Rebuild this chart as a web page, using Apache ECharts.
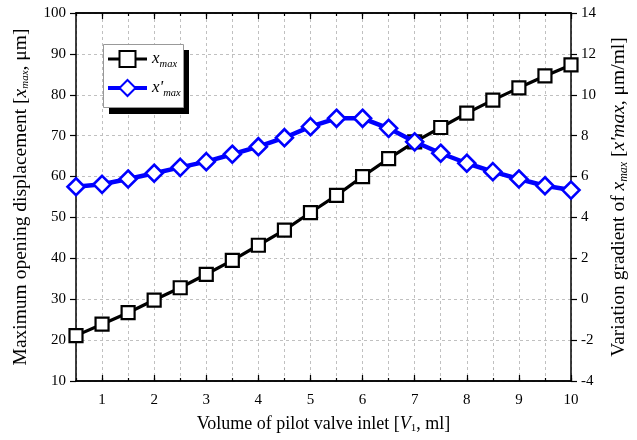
<!DOCTYPE html>
<html>
<head>
<meta charset="utf-8">
<style>
  html, body { margin: 0; padding: 0; background: #fff; }
  #chart { width: 637px; height: 440px; }
</style>
<script src="https://cdn.jsdelivr.net/npm/echarts@6/dist/echarts.min.js"></script>
</head>
<body>
<div id="chart"></div>
<script>
var volume = [0.5, 1, 1.5, 2, 2.5, 3, 3.5, 4, 4.5, 5, 5.5, 6, 6.5, 7, 7.5, 8, 8.5, 9, 9.5, 10];
var xMax = [21.1, 23.9, 26.7, 29.8, 32.8, 36.1, 39.5, 43.2, 46.9, 51.2, 55.4, 60.0, 64.4, 68.5, 72.0, 75.5, 78.7, 81.7, 84.6, 87.3];
var xMaxGrad = [5.5, 5.62, 5.88, 6.16, 6.45, 6.73, 7.09, 7.46, 7.9, 8.44, 8.85, 8.85, 8.36, 7.7, 7.14, 6.65, 6.24, 5.88, 5.55, 5.34];
var majorTicks = [1, 2, 3, 4, 5, 6, 7, 8, 9, 10];

var font = 'Liberation Serif, Times New Roman, serif';

function pairs(xs, ys) {
    return xs.map(function (x, i) { return [x, ys[i]]; });
}

function nameRich(size, subSize) {
    return {
        n: { fontFamily: font, fontSize: size, color: '#000' },
        i: { fontFamily: font, fontSize: size, fontStyle: 'italic', color: '#000' },
        s: { fontFamily: font, fontSize: subSize, fontStyle: 'italic', color: '#000', verticalAlign: 'bottom', padding: [subSize - 2, 0, 0, 0] }
    };
}

var chart = echarts.init(document.getElementById('chart'));

var baseX = {
    type: 'value',
    min: 0.5,
    max: 10,
    interval: 0.5,
    axisLine: { show: true, onZero: false, lineStyle: { color: '#000', width: 1.5 } },
    splitLine: { show: false }
};

function minorAxis(pos, withLabels, withSplit) {
    return Object.assign({}, baseX, {
        position: pos,
        axisTick: { show: true, inside: true, length: 3, lineStyle: { color: '#000', width: 1.2 } },
        axisLabel: {
            show: withLabels,
            margin: 12,
            color: '#000',
            fontFamily: font,
            fontSize: 15,
            formatter: function (v) { return v % 1 === 0 ? String(v) : ''; }
        },
        splitLine: { show: withSplit, lineStyle: { color: '#c0c0c0', type: [3, 3], width: 1 } }
    });
}

function majorAxis(pos) {
    return Object.assign({}, baseX, {
        position: pos,
        axisTick: { show: true, inside: true, length: 6, customValues: majorTicks, lineStyle: { color: '#000', width: 1.2 } },
        axisLabel: { show: false }
    });
}

var xAxes = [minorAxis('bottom', true, true), majorAxis('bottom'), minorAxis('top', false, false), majorAxis('top')];
xAxes[0].name = '{n|Volume of pilot valve inlet [}{i|V}{s|1}{n|, ml]}';
xAxes[0].nameLocation = 'middle';
xAxes[0].nameGap = 33;
xAxes[0].nameTextStyle = { rich: nameRich(18, 11) };
xAxes[0].nameTextStyle.rich.s.fontStyle = 'normal';

var option = {
    animation: false,
    backgroundColor: '#fff',
    grid: { left: 76, right: 66, top: 13, bottom: 59, outerBoundsMode: 'none', containLabel: false },
    graphic: [{
        type: 'rect',
        shape: { x: 109, y: 50, width: 80, height: 64 },
        style: { fill: '#000' },
        z: 10
    }, {
        type: 'rect',
        shape: { x: 103.5, y: 44.5, width: 80, height: 63 },
        style: { fill: '#fff', stroke: '#999', lineWidth: 1 },
        z: 11
    }],
    legend: {
        orient: 'vertical',
        left: 106,
        top: 50,
        itemWidth: 39,
        itemHeight: 20,
        itemGap: 9,
        padding: 0,
        z: 20,
        data: [
            { name: 'x_max', lineStyle: { width: 3 } },
            { name: "x'_max", lineStyle: { width: 4 } }
        ],
        formatter: function (name) {
            return name === 'x_max' ? '{i|x}{s|max}' : "{i|x'}{s|max}";
        },
        textStyle: {
            rich: {
                i: { fontFamily: font, fontSize: 17, fontStyle: 'italic', color: '#000' },
                s: { fontFamily: font, fontSize: 10.5, fontStyle: 'italic', color: '#000', verticalAlign: 'bottom', padding: [11, 0, 0, 0] }
            }
        }
    },
    xAxis: xAxes,
    yAxis: [{
        type: 'value',
        position: 'left',
        min: 10,
        max: 100,
        interval: 10,
        name: '{n|Maximum opening displacement [}{i|x}{s|max}{n|, μm]}',
        nameLocation: 'middle',
        nameGap: 45,
        nameTextStyle: { rich: nameRich(19.5, 11) },
        axisLine: { show: true, lineStyle: { color: '#000', width: 1.5 } },
        axisTick: { show: true, inside: false, length: 6, lineStyle: { color: '#000', width: 1.2 } },
        axisLabel: { color: '#000', fontFamily: font, fontSize: 15, margin: 10 },
        splitLine: { show: true, lineStyle: { color: '#c0c0c0', type: [3, 3], width: 1 } }
    }, {
        type: 'value',
        position: 'right',
        min: -4,
        max: 14,
        interval: 2,
        name: "{n|Variation gradient of }{i|x}{s|max}{n| [}{i|x'max}{n|, μm/ml]}",
        nameLocation: 'middle',
        nameGap: 37,
        nameTextStyle: { rich: nameRich(19.5, 12) },
        axisLine: { show: true, lineStyle: { color: '#000', width: 1.5 } },
        axisTick: { show: true, inside: false, length: 6, lineStyle: { color: '#000', width: 1.2 } },
        axisLabel: { color: '#000', fontFamily: font, fontSize: 15, margin: 10 },
        splitLine: { show: false }
    }],
    series: [{
        name: 'x_max',
        type: 'line',
        xAxisIndex: 0,
        yAxisIndex: 0,
        data: pairs(volume, xMax),
        symbol: 'rect',
        symbolSize: 13,
        lineStyle: { color: '#000', width: 3.2 },
        itemStyle: { color: '#fff', borderColor: '#000', borderWidth: 2.2 },
        z: 2
    }, {
        name: "x'_max",
        type: 'line',
        xAxisIndex: 0,
        yAxisIndex: 1,
        data: pairs(volume, xMaxGrad),
        symbol: 'diamond',
        symbolSize: 17,
        lineStyle: { color: '#0000ff', width: 4.5 },
        itemStyle: { color: '#fff', borderColor: '#0000ff', borderWidth: 2.6 },
        z: 3
    }]
};

chart.setOption(option);
</script>
</body>
</html>
